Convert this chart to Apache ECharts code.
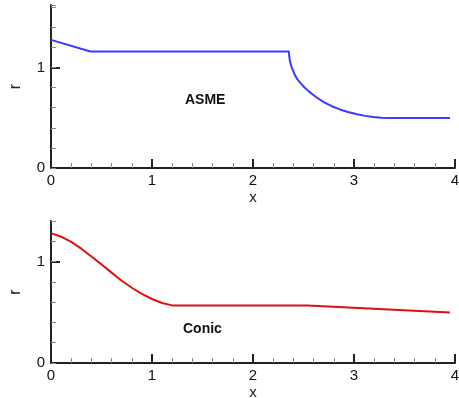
<!DOCTYPE html>
<html>
<head>
<meta charset="utf-8">
<script src="https://cdn.jsdelivr.net/npm/echarts@6/dist/echarts.min.js"></script>
<style>
  html, body { margin: 0; padding: 0; background: #fff; }
  #main { width: 459px; height: 398px; }
</style>
</head>
<body>
<div id="main"></div>
<script>
// ASME nozzle contour
const asmeX = [0, 0.39, 2.356, 2.358, 2.362, 2.37, 2.382, 2.40, 2.416, 2.44, 2.471, 2.51, 2.55, 2.62, 2.70, 2.78, 2.86, 2.94, 3.03, 3.11, 3.19, 3.27, 3.36, 3.95]
const asmeR = [1.273, 1.158, 1.158, 1.12, 1.086, 1.045, 1.003, 0.96, 0.921, 0.88, 0.843, 0.80, 0.764, 0.708, 0.655, 0.614, 0.582, 0.556, 0.534, 0.518, 0.507, 0.500, 0.497, 0.497]
// Conic nozzle contour
const conicX = [0, 0.1, 0.2, 0.3, 0.4, 0.5, 0.6, 0.7, 0.8, 0.9, 1.0, 1.1, 1.2, 2.54, 3.95]
const conicR = [1.28, 1.245, 1.194, 1.127, 1.05, 0.972, 0.891, 0.811, 0.742, 0.681, 0.631, 0.592, 0.568, 0.568, 0.497]
const xTicks = [0, 1, 2, 3, 4]
const yMaxTop = 1.62
const yMaxBottom = 1.4

const font = 'Liberation Sans, Arial, sans-serif'
const axisColor = '#222'

function zip (xs, ys) {
  return xs.map((x, i) => [x, ys[i]])
}

function xAxes (grid, name) {
  return [
    {
      type: 'value', gridIndex: grid, min: xTicks[0], max: xTicks[xTicks.length - 1], interval: 1,
      name: name, nameLocation: 'middle', nameGap: 22,
      nameTextStyle: { color: axisColor, fontSize: 15, fontFamily: font },
      axisLine: { lineStyle: { color: axisColor, width: 2 } },
      axisTick: { inside: true, length: 9, lineStyle: { color: axisColor, width: 2 } },
      minorTick: { show: true, splitNumber: 5, length: 5, lineStyle: { color: '#888', width: 1 } },
      axisLabel: { color: '#111', fontSize: 15, fontFamily: font, margin: 5, showMaxLabel: true },
      splitLine: { show: false }
    }
  ]
}

function yAxes (grid, max) {
  return [
    {
      type: 'value', gridIndex: grid, min: 0, max: max, interval: 1,
      name: 'r', nameLocation: 'middle', nameGap: 27, nameRotate: 90,
      nameTextStyle: { color: axisColor, fontSize: 16, fontFamily: font },
      axisLine: { lineStyle: { color: axisColor, width: 2 } },
      axisTick: { inside: true, length: 9, lineStyle: { color: axisColor, width: 2 } },
      axisLabel: { color: '#111', fontSize: 15, fontFamily: font, margin: 6, showMaxLabel: false },
      splitLine: { show: false }
    },
    {
      // minor ticks every 0.2
      type: 'value', gridIndex: grid, min: 0, max: max, interval: 0.2, position: 'left',
      axisLine: { show: false },
      axisTick: { inside: true, length: 5, lineStyle: { color: '#888', width: 1 } },
      axisLabel: { show: false },
      splitLine: { show: false }
    }
  ]
}

const chart = echarts.init(document.getElementById('main'))
chart.setOption({
  animation: false,
  grid: [
    { left: 51, right: 4, top: 5, height: 163, outerBoundsMode: 'none' },
    { left: 51, right: 4, top: 221, height: 142, outerBoundsMode: 'none' }
  ],
  xAxis: [].concat(xAxes(0, 'x'), xAxes(1, 'x')),
  yAxis: [].concat(yAxes(0, yMaxTop), yAxes(1, yMaxBottom)),
  graphic: [
    { type: 'text', left: 185, top: 93, style: { text: 'ASME', font: 'bold 14px ' + font, fill: '#111' } },
    { type: 'text', left: 183, top: 322, style: { text: 'Conic', font: 'bold 14px ' + font, fill: '#111' } }
  ],
  series: [
    {
      type: 'line', xAxisIndex: 0, yAxisIndex: 0, data: zip(asmeX, asmeR),
      showSymbol: false, lineStyle: { color: '#3b3bff', width: 2 }
    },
    {
      type: 'line', xAxisIndex: 1, yAxisIndex: 2, data: zip(conicX, conicR),
      showSymbol: false, lineStyle: { color: '#dd1111', width: 2 }
    }
  ]
})
</script>
</body>
</html>
